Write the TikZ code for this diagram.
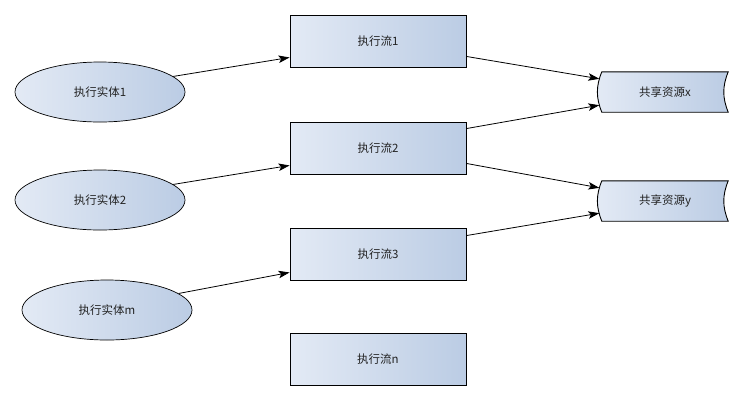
\documentclass[tikz,border=0pt]{standalone}
\usepackage{fontspec}
\setmainfont{Noto Sans CJK SC}
\usetikzlibrary{arrows.meta,calc,backgrounds,shapes.geometric}
\definecolor{gleft}{HTML}{E3EAF5}
\definecolor{gright}{HTML}{BBCCE4}
\definecolor{txt}{HTML}{222222}
\tikzset{
  every node/.style={font=\fontsize{11.5}{13}\selectfont, text=txt},
  entity/.style={ellipse, draw=black, line width=0.7pt, minimum width=170pt, minimum height=60pt, inner sep=0pt, left color=gleft, right color=gright},
  flow/.style={rectangle, draw=black, line width=0.9pt, minimum width=176pt, minimum height=52pt, inner sep=0pt, left color=gleft, right color=gright},
  res/.style={rectangle, draw=none, minimum width=126pt, minimum height=40pt, inner sep=0pt},
  resshape/.style={draw=black, line width=0.9pt, left color=gleft, right color=gright},
  conn/.style={line width=0.8pt, -{Stealth[length=11pt,width=7.5pt,inset=2.5pt]}}
}
\begin{document}
\begin{tikzpicture}[x=1pt,y=-1pt]
\useasboundingbox (0,0) rectangle (743,400);
\node[entity] (e1) at (100,92) {执行实体1};
\node[entity] (e2) at (100,200) {执行实体2};
\node[entity] (em) at (107,310) {执行实体m};
\node[flow] (r1) at (378,41) {执行流1};
\node[flow] (r2) at (378,148) {执行流2};
\node[flow] (r3) at (378,254) {执行流3};
\node[flow] (rn) at (378,359) {执行流n};
\node[res] (sx) at (665,92) {共享资源x};
\node[res] (sy) at (665,201) {共享资源y};
\begin{scope}[on background layer]
\foreach \s in {sx,sy}{
  \path[resshape] (\s.north west) to[bend right=22] (\s.south west) -- (\s.south east) to[bend left=22] (\s.north east) -- cycle;
}
\end{scope}
\draw[conn] (e1.12) -- ($(r1.south west)+(0,-10)$);
\draw[conn] (e2.12) -- ($(r2.south west)+(0,-9)$);
\draw[conn] (em.13) -- ($(r3.south west)+(0,-8)$);
\draw[conn] ($(r1.south east)+(0,-11)$) -- ($(sx.north west)+(-2.5,7)$);
\draw[conn] ($(r2.north east)+(0,7)$) -- ($(sx.south west)+(-2.5,-7)$);
\draw[conn] ($(r2.south east)+(0,-11)$) -- ($(sy.north west)+(-2.5,7)$);
\draw[conn] ($(r3.north east)+(0,8)$) -- ($(sy.south west)+(-2.5,-8)$);
\end{tikzpicture}
\end{document}
